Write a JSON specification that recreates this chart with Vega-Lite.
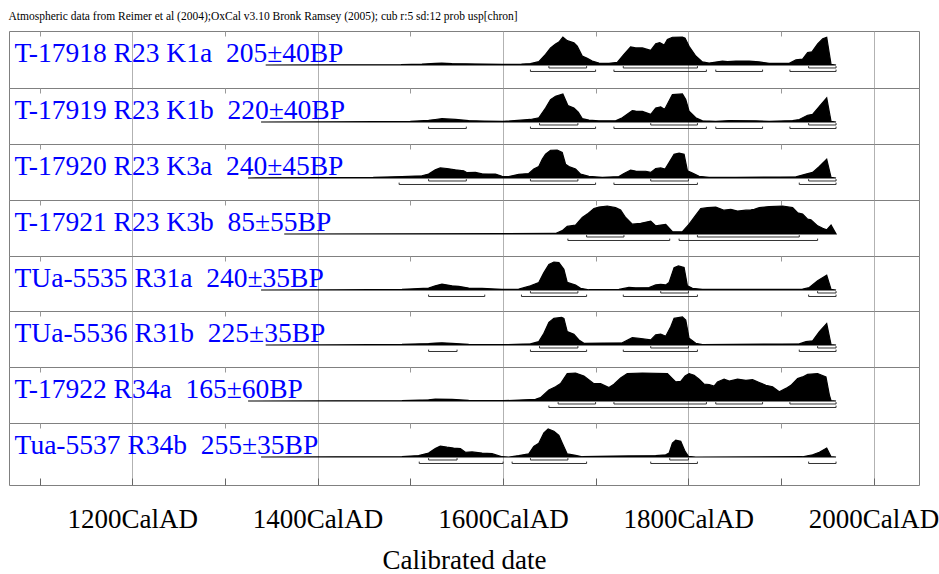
{
"$schema":"https://vega.github.io/schema/vega-lite/v6.json",
"padding":{"left":8,"top":10,"right":0,"bottom":0},
"bounds":"flush",
"title":{"text":"Atmospheric data from Reimer et al (2004);OxCal v3.10 Bronk Ramsey (2005); cub r:5 sd:12 prob usp[chron]","anchor":"start","font":"Liberation Serif","fontSize":11.5,"fontWeight":"normal","color":"#000","offset":8.5},
"spacing":0,
"datasets":{
"lab":[{"id":1,"t":"T-17918 R23 K1a \u00a0205±40BP"},{"id":2,"t":"T-17919 R23 K1b \u00a0220±40BP"},{"id":3,"t":"T-17920 R23 K3a \u00a0240±45BP"},{"id":4,"t":"T-17921 R23 K3b \u00a085±55BP"},{"id":5,"t":"TUa-5535 R31a \u00a0240±35BP"},{"id":6,"t":"TUa-5536 R31b \u00a0225±35BP"},{"id":7,"t":"T-17922 R34a \u00a0165±60BP"},{"id":8,"t":"Tua-5537 R34b \u00a0255±35BP"}],
"r":[
{"id":1,"lv":68,"a":1649.6,"b":1690.3},{"id":1,"lv":68,"a":1729.9,"b":1809.9},{"id":1,"lv":68,"a":1929.9,"b":1959.5},
{"id":1,"lv":95,"a":1629.7,"b":1700},{"id":1,"lv":95,"a":1719.8,"b":1819.6},{"id":1,"lv":95,"a":1829.7,"b":1880.2},{"id":1,"lv":95,"a":1909.7,"b":1959.5},
{"id":2,"lv":68,"a":1639.5,"b":1680.9},{"id":2,"lv":68,"a":1759.5,"b":1809.9},{"id":2,"lv":68,"a":1929.9,"b":1959.5},
{"id":2,"lv":95,"a":1519.8,"b":1560.5},{"id":2,"lv":95,"a":1629.7,"b":1700},{"id":2,"lv":95,"a":1719.8,"b":1819.6},{"id":2,"lv":95,"a":1829.7,"b":1880.2},{"id":2,"lv":95,"a":1909.7,"b":1959.5},
{"id":3,"lv":68,"a":1519.8,"b":1560.5},{"id":3,"lv":68,"a":1629.7,"b":1680.9},{"id":3,"lv":68,"a":1759.5,"b":1800.2},{"id":3,"lv":68,"a":1929.9,"b":1959.5},
{"id":3,"lv":95,"a":1488,"b":1700},{"id":3,"lv":95,"a":1719.8,"b":1809.9},{"id":3,"lv":95,"a":1919.8,"b":1959.5},
{"id":4,"lv":68,"a":1690.3,"b":1730.6},{"id":4,"lv":68,"a":1809.9,"b":1919.8},
{"id":4,"lv":95,"a":1670.1,"b":1780},{"id":4,"lv":95,"a":1790.1,"b":1939.6},
{"id":5,"lv":68,"a":1629.7,"b":1680.9},{"id":5,"lv":68,"a":1770.3,"b":1800.2},{"id":5,"lv":68,"a":1939.6,"b":1959.5},
{"id":5,"lv":95,"a":1519.8,"b":1580.4},{"id":5,"lv":95,"a":1620,"b":1690.3},{"id":5,"lv":95,"a":1729.9,"b":1809.9},{"id":5,"lv":95,"a":1929.9,"b":1959.5},
{"id":6,"lv":68,"a":1639.5,"b":1680.9},{"id":6,"lv":68,"a":1759.5,"b":1800.2},{"id":6,"lv":68,"a":1939.6,"b":1959.5},
{"id":6,"lv":95,"a":1519.8,"b":1550.5},{"id":6,"lv":95,"a":1629.7,"b":1690.3},{"id":6,"lv":95,"a":1729.9,"b":1809.9},{"id":6,"lv":95,"a":1919.8,"b":1959.5},
{"id":7,"lv":68,"a":1659.6,"b":1700},{"id":7,"lv":68,"a":1719.8,"b":1819.6},{"id":7,"lv":68,"a":1829.7,"b":1880.2},{"id":7,"lv":68,"a":1909.7,"b":1959.5},
{"id":7,"lv":95,"a":1649.6,"b":1959.5},
{"id":8,"lv":68,"a":1519.8,"b":1550.5},{"id":8,"lv":68,"a":1629.7,"b":1670.1},{"id":8,"lv":68,"a":1780,"b":1800.2},
{"id":8,"lv":95,"a":1509.7,"b":1600.2},{"id":8,"lv":95,"a":1609.9,"b":1690.3},{"id":8,"lv":95,"a":1759.5,"b":1809.9},{"id":8,"lv":95,"a":1929.9,"b":1959.5}
],
"c":[
{"id":1,"yr":1344,"p":0},{"id":1,"yr":1420,"p":0.005},{"id":1,"yr":1490,"p":0.01},{"id":1,"yr":1512.6,"p":0.03},{"id":1,"yr":1527,"p":0.06},{"id":1,"yr":1534,"p":0.07},{"id":1,"yr":1545,"p":0.05},{"id":1,"yr":1560,"p":0.04},{"id":1,"yr":1580,"p":0.03},{"id":1,"yr":1600,"p":0.02},{"id":1,"yr":1620,"p":0.03},{"id":1,"yr":1629.7,"p":0.05},{"id":1,"yr":1638.7,"p":0.12},{"id":1,"yr":1646,"p":0.38},{"id":1,"yr":1651.4,"p":0.61},{"id":1,"yr":1656.8,"p":0.75},{"id":1,"yr":1660.4,"p":0.82},{"id":1,"yr":1664.7,"p":1.0},{"id":1,"yr":1669.4,"p":0.87},{"id":1,"yr":1676.6,"p":0.79},{"id":1,"yr":1680.2,"p":0.67},{"id":1,"yr":1685.6,"p":0.32},{"id":1,"yr":1691,"p":0.24},{"id":1,"yr":1696.4,"p":0.14},{"id":1,"yr":1703.6,"p":0.07},{"id":1,"yr":1714.4,"p":0.06},{"id":1,"yr":1723.4,"p":0.09},{"id":1,"yr":1730.6,"p":0.38},{"id":1,"yr":1737.8,"p":0.65},{"id":1,"yr":1743.3,"p":0.61},{"id":1,"yr":1750.5,"p":0.61},{"id":1,"yr":1759.5,"p":0.52},{"id":1,"yr":1764.9,"p":0.76},{"id":1,"yr":1769.2,"p":0.8},{"id":1,"yr":1774,"p":0.71},{"id":1,"yr":1777.5,"p":0.91},{"id":1,"yr":1782.9,"p":0.99},{"id":1,"yr":1793.7,"p":1.0},{"id":1,"yr":1796.6,"p":0.96},{"id":1,"yr":1800.9,"p":0.67},{"id":1,"yr":1808.1,"p":0.32},{"id":1,"yr":1815.3,"p":0.11},{"id":1,"yr":1822.5,"p":0.07},{"id":1,"yr":1836.9,"p":0.14},{"id":1,"yr":1842.4,"p":0.12},{"id":1,"yr":1851.4,"p":0.14},{"id":1,"yr":1865.8,"p":0.14},{"id":1,"yr":1876.6,"p":0.11},{"id":1,"yr":1887.4,"p":0.06},{"id":1,"yr":1909,"p":0.06},{"id":1,"yr":1916.2,"p":0.18},{"id":1,"yr":1923.4,"p":0.21},{"id":1,"yr":1928.8,"p":0.44},{"id":1,"yr":1933.5,"p":0.47},{"id":1,"yr":1939.6,"p":0.75},{"id":1,"yr":1945.1,"p":0.94},{"id":1,"yr":1949.4,"p":0.99},{"id":1,"yr":1954.1,"p":0.02},{"id":1,"yr":1959.5,"p":0},
{"id":2,"yr":1339,"p":0},{"id":2,"yr":1420,"p":0.005},{"id":2,"yr":1500,"p":0.02},{"id":2,"yr":1519.8,"p":0.06},{"id":2,"yr":1527,"p":0.09},{"id":2,"yr":1534.2,"p":0.12},{"id":2,"yr":1548.7,"p":0.09},{"id":2,"yr":1563.1,"p":0.05},{"id":2,"yr":1580,"p":0.03},{"id":2,"yr":1600,"p":0.02},{"id":2,"yr":1629.7,"p":0.09},{"id":2,"yr":1638.7,"p":0.15},{"id":2,"yr":1646,"p":0.5},{"id":2,"yr":1651.4,"p":0.8},{"id":2,"yr":1656.8,"p":0.92},{"id":2,"yr":1664.7,"p":1.0},{"id":2,"yr":1670.1,"p":0.59},{"id":2,"yr":1676.6,"p":0.5},{"id":2,"yr":1681.3,"p":0.35},{"id":2,"yr":1685.6,"p":0.12},{"id":2,"yr":1692.8,"p":0.07},{"id":2,"yr":1703.6,"p":0.04},{"id":2,"yr":1721.6,"p":0.04},{"id":2,"yr":1728.8,"p":0.15},{"id":2,"yr":1739.6,"p":0.41},{"id":2,"yr":1743.3,"p":0.39},{"id":2,"yr":1750.5,"p":0.38},{"id":2,"yr":1759.5,"p":0.27},{"id":2,"yr":1764.9,"p":0.5},{"id":2,"yr":1770.3,"p":0.54},{"id":2,"yr":1774.6,"p":0.45},{"id":2,"yr":1782.9,"p":0.98},{"id":2,"yr":1793.7,"p":1.0},{"id":2,"yr":1797.3,"p":0.8},{"id":2,"yr":1800.9,"p":0.39},{"id":2,"yr":1808.1,"p":0.15},{"id":2,"yr":1815.3,"p":0.04},{"id":2,"yr":1829.7,"p":0.02},{"id":2,"yr":1844.2,"p":0.05},{"id":2,"yr":1873,"p":0.04},{"id":2,"yr":1887.4,"p":0.02},{"id":2,"yr":1912.6,"p":0.05},{"id":2,"yr":1919.8,"p":0.09},{"id":2,"yr":1928.8,"p":0.24},{"id":2,"yr":1934.2,"p":0.27},{"id":2,"yr":1941.5,"p":0.56},{"id":2,"yr":1949.4,"p":0.86},{"id":2,"yr":1954.1,"p":0.02},{"id":2,"yr":1959.5,"p":0},
{"id":3,"yr":1325,"p":0},{"id":3,"yr":1400,"p":0.01},{"id":3,"yr":1460,"p":0.02},{"id":3,"yr":1491,"p":0.05},{"id":3,"yr":1512.6,"p":0.08},{"id":3,"yr":1519.8,"p":0.14},{"id":3,"yr":1527,"p":0.29},{"id":3,"yr":1532.4,"p":0.36},{"id":3,"yr":1539.6,"p":0.34},{"id":3,"yr":1548.7,"p":0.29},{"id":3,"yr":1557.7,"p":0.26},{"id":3,"yr":1561.3,"p":0.19},{"id":3,"yr":1570.3,"p":0.2},{"id":3,"yr":1577.5,"p":0.15},{"id":3,"yr":1584.7,"p":0.14},{"id":3,"yr":1591.9,"p":0.14},{"id":3,"yr":1599.1,"p":0.06},{"id":3,"yr":1606.3,"p":0.05},{"id":3,"yr":1617.1,"p":0.13},{"id":3,"yr":1627.9,"p":0.16},{"id":3,"yr":1633.3,"p":0.32},{"id":3,"yr":1638.7,"p":0.41},{"id":3,"yr":1642.4,"p":0.67},{"id":3,"yr":1646,"p":0.85},{"id":3,"yr":1651.4,"p":0.99},{"id":3,"yr":1658.6,"p":1.0},{"id":3,"yr":1664,"p":0.91},{"id":3,"yr":1667.6,"p":0.49},{"id":3,"yr":1671.2,"p":0.41},{"id":3,"yr":1678.4,"p":0.32},{"id":3,"yr":1683.8,"p":0.14},{"id":3,"yr":1692.8,"p":0.06},{"id":3,"yr":1707.2,"p":0.02},{"id":3,"yr":1725.2,"p":0.05},{"id":3,"yr":1730.6,"p":0.16},{"id":3,"yr":1737.8,"p":0.28},{"id":3,"yr":1743.3,"p":0.25},{"id":3,"yr":1754.1,"p":0.24},{"id":3,"yr":1759.5,"p":0.2},{"id":3,"yr":1764.9,"p":0.34},{"id":3,"yr":1770.3,"p":0.36},{"id":3,"yr":1775,"p":0.32},{"id":3,"yr":1779.3,"p":0.55},{"id":3,"yr":1784.7,"p":0.85},{"id":3,"yr":1790.1,"p":0.89},{"id":3,"yr":1795.5,"p":0.85},{"id":3,"yr":1799.1,"p":0.26},{"id":3,"yr":1804.5,"p":0.18},{"id":3,"yr":1811.7,"p":0.06},{"id":3,"yr":1822.5,"p":0.02},{"id":3,"yr":1851.4,"p":0.02},{"id":3,"yr":1916.2,"p":0.04},{"id":3,"yr":1927,"p":0.14},{"id":3,"yr":1934.2,"p":0.2},{"id":3,"yr":1941.5,"p":0.41},{"id":3,"yr":1949.4,"p":0.67},{"id":3,"yr":1954.1,"p":0.02},{"id":3,"yr":1959.5,"p":0},
{"id":4,"yr":1364,"p":0},{"id":4,"yr":1500,"p":0.005},{"id":4,"yr":1600,"p":0.01},{"id":4,"yr":1656.8,"p":0.02},{"id":4,"yr":1664,"p":0.12},{"id":4,"yr":1669.4,"p":0.27},{"id":4,"yr":1678.4,"p":0.32},{"id":4,"yr":1685.6,"p":0.59},{"id":4,"yr":1691,"p":0.71},{"id":4,"yr":1698.2,"p":0.91},{"id":4,"yr":1703.6,"p":0.96},{"id":4,"yr":1712.6,"p":1.0},{"id":4,"yr":1721.6,"p":0.94},{"id":4,"yr":1727,"p":0.86},{"id":4,"yr":1732.4,"p":0.59},{"id":4,"yr":1739.6,"p":0.35},{"id":4,"yr":1748.7,"p":0.38},{"id":4,"yr":1759.5,"p":0.46},{"id":4,"yr":1764.9,"p":0.29},{"id":4,"yr":1770.3,"p":0.32},{"id":4,"yr":1775.7,"p":0.34},{"id":4,"yr":1782.9,"p":0.08},{"id":4,"yr":1793.7,"p":0.08},{"id":4,"yr":1800.9,"p":0.35},{"id":4,"yr":1808.1,"p":0.67},{"id":4,"yr":1813.5,"p":0.91},{"id":4,"yr":1820.7,"p":0.94},{"id":4,"yr":1829.7,"p":0.96},{"id":4,"yr":1838.7,"p":0.85},{"id":4,"yr":1846,"p":0.88},{"id":4,"yr":1853.2,"p":0.82},{"id":4,"yr":1862.2,"p":0.85},{"id":4,"yr":1867.6,"p":0.86},{"id":4,"yr":1871.2,"p":0.88},{"id":4,"yr":1876.6,"p":0.94},{"id":4,"yr":1887.4,"p":0.98},{"id":4,"yr":1901.8,"p":1.0},{"id":4,"yr":1912.6,"p":0.94},{"id":4,"yr":1918,"p":0.76},{"id":4,"yr":1923.4,"p":0.71},{"id":4,"yr":1928.8,"p":0.53},{"id":4,"yr":1932.4,"p":0.51},{"id":4,"yr":1939.6,"p":0.29},{"id":4,"yr":1945.1,"p":0.2},{"id":4,"yr":1949.4,"p":0.15},{"id":4,"yr":1954.1,"p":0.32},{"id":4,"yr":1959.5,"p":0},
{"id":5,"yr":1339,"p":0},{"id":5,"yr":1420,"p":0.005},{"id":5,"yr":1491,"p":0.02},{"id":5,"yr":1519.8,"p":0.07},{"id":5,"yr":1527,"p":0.15},{"id":5,"yr":1534.2,"p":0.21},{"id":5,"yr":1545.1,"p":0.15},{"id":5,"yr":1552.3,"p":0.13},{"id":5,"yr":1563.1,"p":0.07},{"id":5,"yr":1577.5,"p":0.06},{"id":5,"yr":1599.1,"p":0.02},{"id":5,"yr":1617.1,"p":0.03},{"id":5,"yr":1629.7,"p":0.15},{"id":5,"yr":1638.7,"p":0.27},{"id":5,"yr":1644.2,"p":0.62},{"id":5,"yr":1649.6,"p":0.91},{"id":5,"yr":1655,"p":1.0},{"id":5,"yr":1660.4,"p":0.98},{"id":5,"yr":1665.8,"p":0.74},{"id":5,"yr":1669.4,"p":0.27},{"id":5,"yr":1678.4,"p":0.18},{"id":5,"yr":1683.8,"p":0.06},{"id":5,"yr":1692.8,"p":0.01},{"id":5,"yr":1725.2,"p":0.02},{"id":5,"yr":1736,"p":0.09},{"id":5,"yr":1743.3,"p":0.08},{"id":5,"yr":1757.7,"p":0.09},{"id":5,"yr":1764.9,"p":0.18},{"id":5,"yr":1770.3,"p":0.2},{"id":5,"yr":1775.7,"p":0.18},{"id":5,"yr":1779.3,"p":0.27},{"id":5,"yr":1784.7,"p":0.8},{"id":5,"yr":1789.4,"p":0.86},{"id":5,"yr":1795.5,"p":0.8},{"id":5,"yr":1799.1,"p":0.15},{"id":5,"yr":1804.5,"p":0.06},{"id":5,"yr":1815.3,"p":0.02},{"id":5,"yr":1923.4,"p":0.03},{"id":5,"yr":1930.6,"p":0.09},{"id":5,"yr":1939.6,"p":0.33},{"id":5,"yr":1949.4,"p":0.53},{"id":5,"yr":1954.1,"p":0.02},{"id":5,"yr":1959.5,"p":0},
{"id":6,"yr":1344,"p":0},{"id":6,"yr":1420,"p":0.005},{"id":6,"yr":1491,"p":0.02},{"id":6,"yr":1519.8,"p":0.05},{"id":6,"yr":1527,"p":0.07},{"id":6,"yr":1534.2,"p":0.08},{"id":6,"yr":1545.1,"p":0.06},{"id":6,"yr":1563.1,"p":0.02},{"id":6,"yr":1600,"p":0.01},{"id":6,"yr":1629.7,"p":0.04},{"id":6,"yr":1638.7,"p":0.12},{"id":6,"yr":1644.2,"p":0.42},{"id":6,"yr":1649.6,"p":0.81},{"id":6,"yr":1655,"p":0.95},{"id":6,"yr":1663.3,"p":0.99},{"id":6,"yr":1665.8,"p":0.95},{"id":6,"yr":1669.4,"p":0.48},{"id":6,"yr":1676.6,"p":0.38},{"id":6,"yr":1682,"p":0.18},{"id":6,"yr":1687.4,"p":0.06},{"id":6,"yr":1728.8,"p":0.08},{"id":6,"yr":1739.6,"p":0.26},{"id":6,"yr":1746.9,"p":0.24},{"id":6,"yr":1759.5,"p":0.18},{"id":6,"yr":1764.9,"p":0.36},{"id":6,"yr":1770.3,"p":0.39},{"id":6,"yr":1775.7,"p":0.31},{"id":6,"yr":1781.1,"p":0.65},{"id":6,"yr":1784.7,"p":0.95},{"id":6,"yr":1793.7,"p":1.0},{"id":6,"yr":1797.3,"p":0.89},{"id":6,"yr":1800.9,"p":0.24},{"id":6,"yr":1808.1,"p":0.06},{"id":6,"yr":1815.3,"p":0.01},{"id":6,"yr":1919.8,"p":0.04},{"id":6,"yr":1927,"p":0.12},{"id":6,"yr":1934.2,"p":0.15},{"id":6,"yr":1941.5,"p":0.48},{"id":6,"yr":1949.4,"p":0.77},{"id":6,"yr":1954.1,"p":0.01},{"id":6,"yr":1959.5,"p":0},
{"id":7,"yr":1325,"p":0},{"id":7,"yr":1420,"p":0.005},{"id":7,"yr":1491,"p":0.01},{"id":7,"yr":1519.8,"p":0.04},{"id":7,"yr":1527,"p":0.07},{"id":7,"yr":1545.1,"p":0.06},{"id":7,"yr":1563.1,"p":0.02},{"id":7,"yr":1600,"p":0.01},{"id":7,"yr":1635.1,"p":0.06},{"id":7,"yr":1640.5,"p":0.12},{"id":7,"yr":1649.6,"p":0.39},{"id":7,"yr":1656.8,"p":0.51},{"id":7,"yr":1662.2,"p":0.62},{"id":7,"yr":1669.4,"p":0.98},{"id":7,"yr":1678.4,"p":1.0},{"id":7,"yr":1687.4,"p":0.89},{"id":7,"yr":1698.2,"p":0.62},{"id":7,"yr":1705.4,"p":0.62},{"id":7,"yr":1714.4,"p":0.48},{"id":7,"yr":1719.8,"p":0.6},{"id":7,"yr":1727,"p":0.82},{"id":7,"yr":1734.2,"p":0.98},{"id":7,"yr":1750.5,"p":1.0},{"id":7,"yr":1777.5,"p":0.98},{"id":7,"yr":1782.9,"p":0.8},{"id":7,"yr":1786.5,"p":0.68},{"id":7,"yr":1791.9,"p":0.7},{"id":7,"yr":1796.6,"p":0.89},{"id":7,"yr":1800.9,"p":0.98},{"id":7,"yr":1806.3,"p":0.92},{"id":7,"yr":1811.7,"p":0.78},{"id":7,"yr":1817.1,"p":0.6},{"id":7,"yr":1822.5,"p":0.59},{"id":7,"yr":1827.9,"p":0.53},{"id":7,"yr":1831.5,"p":0.68},{"id":7,"yr":1838.7,"p":0.78},{"id":7,"yr":1844.2,"p":0.71},{"id":7,"yr":1853.2,"p":0.78},{"id":7,"yr":1862.2,"p":0.74},{"id":7,"yr":1869.4,"p":0.76},{"id":7,"yr":1876.6,"p":0.66},{"id":7,"yr":1883.8,"p":0.56},{"id":7,"yr":1891,"p":0.51},{"id":7,"yr":1898.2,"p":0.33},{"id":7,"yr":1905.4,"p":0.45},{"id":7,"yr":1910.8,"p":0.56},{"id":7,"yr":1918,"p":0.8},{"id":7,"yr":1923.4,"p":0.86},{"id":7,"yr":1928.8,"p":0.95},{"id":7,"yr":1939.6,"p":0.98},{"id":7,"yr":1948.6,"p":0.86},{"id":7,"yr":1952.3,"p":0.21},{"id":7,"yr":1954.1,"p":0.01},{"id":7,"yr":1959.5,"p":0},
{"id":8,"yr":1339,"p":0},{"id":8,"yr":1420,"p":0.005},{"id":8,"yr":1491,"p":0.01},{"id":8,"yr":1509,"p":0.05},{"id":8,"yr":1519.8,"p":0.14},{"id":8,"yr":1527,"p":0.3},{"id":8,"yr":1532.4,"p":0.39},{"id":8,"yr":1539.6,"p":0.35},{"id":8,"yr":1546.9,"p":0.32},{"id":8,"yr":1554.1,"p":0.3},{"id":8,"yr":1559.5,"p":0.17},{"id":8,"yr":1566.7,"p":0.18},{"id":8,"yr":1577.5,"p":0.14},{"id":8,"yr":1588.3,"p":0.12},{"id":8,"yr":1599.1,"p":0.01},{"id":8,"yr":1606.3,"p":0.0},{"id":8,"yr":1617.1,"p":0.05},{"id":8,"yr":1627.9,"p":0.11},{"id":8,"yr":1633.3,"p":0.38},{"id":8,"yr":1638.7,"p":0.49},{"id":8,"yr":1644.2,"p":0.86},{"id":8,"yr":1648.8,"p":1.0},{"id":8,"yr":1655,"p":0.92},{"id":8,"yr":1660.4,"p":0.77},{"id":8,"yr":1664,"p":0.5},{"id":8,"yr":1669.4,"p":0.11},{"id":8,"yr":1678.4,"p":0.06},{"id":8,"yr":1685.6,"p":0.01},{"id":8,"yr":1736,"p":0.04},{"id":8,"yr":1764.9,"p":0.05},{"id":8,"yr":1775.7,"p":0.08},{"id":8,"yr":1779.3,"p":0.14},{"id":8,"yr":1782.9,"p":0.5},{"id":8,"yr":1786.5,"p":0.6},{"id":8,"yr":1791.9,"p":0.56},{"id":8,"yr":1796.6,"p":0.2},{"id":8,"yr":1800.2,"p":0.02},{"id":8,"yr":1808.1,"p":0},{"id":8,"yr":1923.4,"p":0.01},{"id":8,"yr":1934.2,"p":0.08},{"id":8,"yr":1941.5,"p":0.17},{"id":8,"yr":1949.4,"p":0.32},{"id":8,"yr":1954.1,"p":0.01},{"id":8,"yr":1959.5,"p":0}
]},
"vconcat":[
{"width":910,"height":57,"layer":[
{"data":{"name":"c"},"transform":[{"filter":"datum.id==1"}],"mark":"area","encoding":{"x":{"field":"yr","type":"quantitative","scale":{"domain":[1067,2049],"nice":false,"zero":false},"axis":{"values":[1100,1200,1300,1400,1500,1600,1700,1800,1900,2000],"labels":false,"ticks":false,"domain":false,"title":null,"grid":true,"gridColor":"#999","gridDash":{"condition":{"test":"datum.value % 200 === 0","value":[1,0]},"value":[5,1000]}}},"y":{"field":"p","type":"quantitative","scale":{"domain":[-0.822,1.214],"nice":false,"zero":false},"axis":null},"y2":{"datum":0}}},
{"data":{"name":"r"},"transform":[{"filter":"datum.id==1 && datum.lv==68"}],"mark":"rule","encoding":{"x":{"field":"a","type":"quantitative"},"x2":{"field":"b"},"y":{"datum":-0.107}}},
{"data":{"name":"r"},"transform":[{"filter":"datum.id==1 && datum.lv==95"}],"mark":"rule","encoding":{"x":{"field":"a","type":"quantitative"},"x2":{"field":"b"},"y":{"datum":-0.232}}},
{"data":{"name":"r"},"transform":[{"filter":"datum.id==1 && datum.lv==68"},{"fold":["a","b"],"as":["e","v"]}],"mark":"rule","encoding":{"x":{"field":"v","type":"quantitative"},"y":{"datum":-0.107},"y2":{"datum":-0.04}}},
{"data":{"name":"r"},"transform":[{"filter":"datum.id==1 && datum.lv==95"},{"fold":["a","b"],"as":["e","v"]}],"mark":"rule","encoding":{"x":{"field":"v","type":"quantitative"},"y":{"datum":-0.232},"y2":{"datum":-0.165}}},
{"data":{"name":"lab"},"transform":[{"filter":"datum.id==1"}],"mark":"text","encoding":{"x":{"datum":1073},"y":{"datum":0.107},"text":{"field":"t"}}}
]},
{"width":910,"height":56,"layer":[
{"data":{"name":"c"},"transform":[{"filter":"datum.id==2"}],"mark":"area","encoding":{"x":{"field":"yr","type":"quantitative","scale":{"domain":[1067,2049],"nice":false,"zero":false},"axis":{"values":[1100,1200,1300,1400,1500,1600,1700,1800,1900,2000],"labels":false,"ticks":false,"domain":false,"title":null,"grid":true,"gridColor":"#999","gridDash":{"condition":{"test":"datum.value % 200 === 0","value":[1,0]},"value":[5,1000]}}},"y":{"field":"p","type":"quantitative","scale":{"domain":[-0.786,1.214],"nice":false,"zero":false},"axis":null},"y2":{"datum":0}}},
{"data":{"name":"r"},"transform":[{"filter":"datum.id==2 && datum.lv==68"}],"mark":"rule","encoding":{"x":{"field":"a","type":"quantitative"},"x2":{"field":"b"},"y":{"datum":-0.107}}},
{"data":{"name":"r"},"transform":[{"filter":"datum.id==2 && datum.lv==95"}],"mark":"rule","encoding":{"x":{"field":"a","type":"quantitative"},"x2":{"field":"b"},"y":{"datum":-0.232}}},
{"data":{"name":"r"},"transform":[{"filter":"datum.id==2 && datum.lv==68"},{"fold":["a","b"],"as":["e","v"]}],"mark":"rule","encoding":{"x":{"field":"v","type":"quantitative"},"y":{"datum":-0.107},"y2":{"datum":-0.04}}},
{"data":{"name":"r"},"transform":[{"filter":"datum.id==2 && datum.lv==95"},{"fold":["a","b"],"as":["e","v"]}],"mark":"rule","encoding":{"x":{"field":"v","type":"quantitative"},"y":{"datum":-0.232},"y2":{"datum":-0.165}}},
{"data":{"name":"lab"},"transform":[{"filter":"datum.id==2"}],"mark":"text","encoding":{"x":{"datum":1073},"y":{"datum":0.107},"text":{"field":"t"}}}
]},
{"width":910,"height":56,"layer":[
{"data":{"name":"c"},"transform":[{"filter":"datum.id==3"}],"mark":"area","encoding":{"x":{"field":"yr","type":"quantitative","scale":{"domain":[1067,2049],"nice":false,"zero":false},"axis":{"values":[1100,1200,1300,1400,1500,1600,1700,1800,1900,2000],"labels":false,"ticks":false,"domain":false,"title":null,"grid":true,"gridColor":"#999","gridDash":{"condition":{"test":"datum.value % 200 === 0","value":[1,0]},"value":[5,1000]}}},"y":{"field":"p","type":"quantitative","scale":{"domain":[-0.786,1.214],"nice":false,"zero":false},"axis":null},"y2":{"datum":0}}},
{"data":{"name":"r"},"transform":[{"filter":"datum.id==3 && datum.lv==68"}],"mark":"rule","encoding":{"x":{"field":"a","type":"quantitative"},"x2":{"field":"b"},"y":{"datum":-0.107}}},
{"data":{"name":"r"},"transform":[{"filter":"datum.id==3 && datum.lv==95"}],"mark":"rule","encoding":{"x":{"field":"a","type":"quantitative"},"x2":{"field":"b"},"y":{"datum":-0.232}}},
{"data":{"name":"r"},"transform":[{"filter":"datum.id==3 && datum.lv==68"},{"fold":["a","b"],"as":["e","v"]}],"mark":"rule","encoding":{"x":{"field":"v","type":"quantitative"},"y":{"datum":-0.107},"y2":{"datum":-0.04}}},
{"data":{"name":"r"},"transform":[{"filter":"datum.id==3 && datum.lv==95"},{"fold":["a","b"],"as":["e","v"]}],"mark":"rule","encoding":{"x":{"field":"v","type":"quantitative"},"y":{"datum":-0.232},"y2":{"datum":-0.165}}},
{"data":{"name":"lab"},"transform":[{"filter":"datum.id==3"}],"mark":"text","encoding":{"x":{"datum":1073},"y":{"datum":0.107},"text":{"field":"t"}}}
]},
{"width":910,"height":56,"layer":[
{"data":{"name":"c"},"transform":[{"filter":"datum.id==4"}],"mark":"area","encoding":{"x":{"field":"yr","type":"quantitative","scale":{"domain":[1067,2049],"nice":false,"zero":false},"axis":{"values":[1100,1200,1300,1400,1500,1600,1700,1800,1900,2000],"labels":false,"ticks":false,"domain":false,"title":null,"grid":true,"gridColor":"#999","gridDash":{"condition":{"test":"datum.value % 200 === 0","value":[1,0]},"value":[5,1000]}}},"y":{"field":"p","type":"quantitative","scale":{"domain":[-0.786,1.214],"nice":false,"zero":false},"axis":null},"y2":{"datum":0}}},
{"data":{"name":"r"},"transform":[{"filter":"datum.id==4 && datum.lv==68"}],"mark":"rule","encoding":{"x":{"field":"a","type":"quantitative"},"x2":{"field":"b"},"y":{"datum":-0.107}}},
{"data":{"name":"r"},"transform":[{"filter":"datum.id==4 && datum.lv==95"}],"mark":"rule","encoding":{"x":{"field":"a","type":"quantitative"},"x2":{"field":"b"},"y":{"datum":-0.232}}},
{"data":{"name":"r"},"transform":[{"filter":"datum.id==4 && datum.lv==68"},{"fold":["a","b"],"as":["e","v"]}],"mark":"rule","encoding":{"x":{"field":"v","type":"quantitative"},"y":{"datum":-0.107},"y2":{"datum":-0.04}}},
{"data":{"name":"r"},"transform":[{"filter":"datum.id==4 && datum.lv==95"},{"fold":["a","b"],"as":["e","v"]}],"mark":"rule","encoding":{"x":{"field":"v","type":"quantitative"},"y":{"datum":-0.232},"y2":{"datum":-0.165}}},
{"data":{"name":"lab"},"transform":[{"filter":"datum.id==4"}],"mark":"text","encoding":{"x":{"datum":1073},"y":{"datum":0.107},"text":{"field":"t"}}}
]},
{"width":910,"height":55,"layer":[
{"data":{"name":"c"},"transform":[{"filter":"datum.id==5"}],"mark":"area","encoding":{"x":{"field":"yr","type":"quantitative","scale":{"domain":[1067,2049],"nice":false,"zero":false},"axis":{"values":[1100,1200,1300,1400,1500,1600,1700,1800,1900,2000],"labels":false,"ticks":false,"domain":false,"title":null,"grid":true,"gridColor":"#999","gridDash":{"condition":{"test":"datum.value % 200 === 0","value":[1,0]},"value":[5,1000]}}},"y":{"field":"p","type":"quantitative","scale":{"domain":[-0.75,1.214],"nice":false,"zero":false},"axis":null},"y2":{"datum":0}}},
{"data":{"name":"r"},"transform":[{"filter":"datum.id==5 && datum.lv==68"}],"mark":"rule","encoding":{"x":{"field":"a","type":"quantitative"},"x2":{"field":"b"},"y":{"datum":-0.107}}},
{"data":{"name":"r"},"transform":[{"filter":"datum.id==5 && datum.lv==95"}],"mark":"rule","encoding":{"x":{"field":"a","type":"quantitative"},"x2":{"field":"b"},"y":{"datum":-0.232}}},
{"data":{"name":"r"},"transform":[{"filter":"datum.id==5 && datum.lv==68"},{"fold":["a","b"],"as":["e","v"]}],"mark":"rule","encoding":{"x":{"field":"v","type":"quantitative"},"y":{"datum":-0.107},"y2":{"datum":-0.04}}},
{"data":{"name":"r"},"transform":[{"filter":"datum.id==5 && datum.lv==95"},{"fold":["a","b"],"as":["e","v"]}],"mark":"rule","encoding":{"x":{"field":"v","type":"quantitative"},"y":{"datum":-0.232},"y2":{"datum":-0.165}}},
{"data":{"name":"lab"},"transform":[{"filter":"datum.id==5"}],"mark":"text","encoding":{"x":{"datum":1073},"y":{"datum":0.107},"text":{"field":"t"}}}
]},
{"width":910,"height":56,"layer":[
{"data":{"name":"c"},"transform":[{"filter":"datum.id==6"}],"mark":"area","encoding":{"x":{"field":"yr","type":"quantitative","scale":{"domain":[1067,2049],"nice":false,"zero":false},"axis":{"values":[1100,1200,1300,1400,1500,1600,1700,1800,1900,2000],"labels":false,"ticks":false,"domain":false,"title":null,"grid":true,"gridColor":"#999","gridDash":{"condition":{"test":"datum.value % 200 === 0","value":[1,0]},"value":[5,1000]}}},"y":{"field":"p","type":"quantitative","scale":{"domain":[-0.786,1.214],"nice":false,"zero":false},"axis":null},"y2":{"datum":0}}},
{"data":{"name":"r"},"transform":[{"filter":"datum.id==6 && datum.lv==68"}],"mark":"rule","encoding":{"x":{"field":"a","type":"quantitative"},"x2":{"field":"b"},"y":{"datum":-0.107}}},
{"data":{"name":"r"},"transform":[{"filter":"datum.id==6 && datum.lv==95"}],"mark":"rule","encoding":{"x":{"field":"a","type":"quantitative"},"x2":{"field":"b"},"y":{"datum":-0.232}}},
{"data":{"name":"r"},"transform":[{"filter":"datum.id==6 && datum.lv==68"},{"fold":["a","b"],"as":["e","v"]}],"mark":"rule","encoding":{"x":{"field":"v","type":"quantitative"},"y":{"datum":-0.107},"y2":{"datum":-0.04}}},
{"data":{"name":"r"},"transform":[{"filter":"datum.id==6 && datum.lv==95"},{"fold":["a","b"],"as":["e","v"]}],"mark":"rule","encoding":{"x":{"field":"v","type":"quantitative"},"y":{"datum":-0.232},"y2":{"datum":-0.165}}},
{"data":{"name":"lab"},"transform":[{"filter":"datum.id==6"}],"mark":"text","encoding":{"x":{"datum":1073},"y":{"datum":0.107},"text":{"field":"t"}}}
]},
{"width":910,"height":56,"layer":[
{"data":{"name":"c"},"transform":[{"filter":"datum.id==7"}],"mark":"area","encoding":{"x":{"field":"yr","type":"quantitative","scale":{"domain":[1067,2049],"nice":false,"zero":false},"axis":{"values":[1100,1200,1300,1400,1500,1600,1700,1800,1900,2000],"labels":false,"ticks":false,"domain":false,"title":null,"grid":true,"gridColor":"#999","gridDash":{"condition":{"test":"datum.value % 200 === 0","value":[1,0]},"value":[5,1000]}}},"y":{"field":"p","type":"quantitative","scale":{"domain":[-0.786,1.214],"nice":false,"zero":false},"axis":null},"y2":{"datum":0}}},
{"data":{"name":"r"},"transform":[{"filter":"datum.id==7 && datum.lv==68"}],"mark":"rule","encoding":{"x":{"field":"a","type":"quantitative"},"x2":{"field":"b"},"y":{"datum":-0.107}}},
{"data":{"name":"r"},"transform":[{"filter":"datum.id==7 && datum.lv==95"}],"mark":"rule","encoding":{"x":{"field":"a","type":"quantitative"},"x2":{"field":"b"},"y":{"datum":-0.232}}},
{"data":{"name":"r"},"transform":[{"filter":"datum.id==7 && datum.lv==68"},{"fold":["a","b"],"as":["e","v"]}],"mark":"rule","encoding":{"x":{"field":"v","type":"quantitative"},"y":{"datum":-0.107},"y2":{"datum":-0.04}}},
{"data":{"name":"r"},"transform":[{"filter":"datum.id==7 && datum.lv==95"},{"fold":["a","b"],"as":["e","v"]}],"mark":"rule","encoding":{"x":{"field":"v","type":"quantitative"},"y":{"datum":-0.232},"y2":{"datum":-0.165}}},
{"data":{"name":"lab"},"transform":[{"filter":"datum.id==7"}],"mark":"text","encoding":{"x":{"datum":1073},"y":{"datum":0.107},"text":{"field":"t"}}}
]},
{"width":910,"height":62,"layer":[
{"data":{"name":"c"},"transform":[{"filter":"datum.id==8"}],"mark":"area","encoding":{"x":{"field":"yr","type":"quantitative","scale":{"domain":[1067,2049],"nice":false,"zero":false},"axis":{"values":[1100,1200,1300,1400,1500,1600,1700,1800,1900,2000],"labels":true,"labelExpr":"datum.value % 200 === 0 ? datum.value + 'CalAD' : ''","labelFontSize":27,"labelColor":"#000","labelPadding":28,"labelOverlap":false,"labelFlush":false,"ticks":true,"tickSize":-7,"tickColor":"#666","domain":false,"title":"Calibrated date","titleFontSize":27,"titleFontWeight":"normal","titleColor":"#000","titlePadding":15,"grid":true,"gridColor":"#999","gridDash":{"condition":{"test":"datum.value % 200 === 0","value":[1,0]},"value":[5,1000]}}},"y":{"field":"p","type":"quantitative","scale":{"domain":[-1.0,1.214],"nice":false,"zero":false},"axis":null},"y2":{"datum":0}}},
{"data":{"name":"r"},"transform":[{"filter":"datum.id==8 && datum.lv==68"}],"mark":"rule","encoding":{"x":{"field":"a","type":"quantitative"},"x2":{"field":"b"},"y":{"datum":-0.107}}},
{"data":{"name":"r"},"transform":[{"filter":"datum.id==8 && datum.lv==95"}],"mark":"rule","encoding":{"x":{"field":"a","type":"quantitative"},"x2":{"field":"b"},"y":{"datum":-0.232}}},
{"data":{"name":"r"},"transform":[{"filter":"datum.id==8 && datum.lv==68"},{"fold":["a","b"],"as":["e","v"]}],"mark":"rule","encoding":{"x":{"field":"v","type":"quantitative"},"y":{"datum":-0.107},"y2":{"datum":-0.04}}},
{"data":{"name":"r"},"transform":[{"filter":"datum.id==8 && datum.lv==95"},{"fold":["a","b"],"as":["e","v"]}],"mark":"rule","encoding":{"x":{"field":"v","type":"quantitative"},"y":{"datum":-0.232},"y2":{"datum":-0.165}}},
{"data":{"name":"lab"},"transform":[{"filter":"datum.id==8"}],"mark":"text","encoding":{"x":{"datum":1073},"y":{"datum":0.107},"text":{"field":"t"}}}
]}
],
"config":{
"view":{"stroke":"#808080","strokeWidth":1},
"font":"Liberation Serif",
"axis":{"labelFont":"Liberation Serif","titleFont":"Liberation Serif"},
"area":{"fill":"#000","stroke":"#000","strokeWidth":1.2},
"rule":{"color":"#333","strokeWidth":1},
"text":{"align":"left","baseline":"alphabetic","font":"Liberation Serif","fontSize":27.5,"color":"#0000ff"}
}
}
